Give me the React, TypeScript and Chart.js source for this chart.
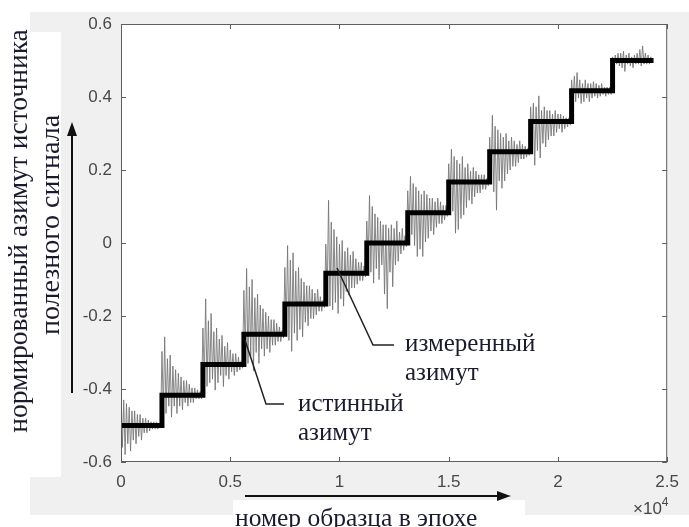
import React, { useEffect, useRef } from "react";
import { Chart, registerables } from "chart.js";

Chart.register(...registerables);

// ---- data ----
const stepStarts = [0, 1875, 3750, 5625, 7500, 9375, 11250, 13125, 15000, 16875, 18750, 20625, 22500];
const epochEnd = 24375;
const trueLevels = [-0.5, -0.417, -0.333, -0.25, -0.167, -0.083, 0, 0.083, 0.167, 0.25, 0.333, 0.417, 0.5];
const xTickValues = [0, 5000, 10000, 15000, 20000, 25000];
const yTickValues = [-0.6, -0.4, -0.2, 0, 0.2, 0.4, 0.6];

// measured azimuth: deviations from the true level, read per step
const m01 = [0.1, -0.06, 0.07, -0.08, 0.06, -0.05, 0.05, -0.07, 0.04, -0.04, 0.04, -0.05, 0.03, -0.03, 0.03, -0.04, 0.02, -0.02, 0.02, -0.02, 0.015, -0.015, 0.01, -0.01, 0.01, -0.01, 0.01, -0.01, 0.005, -0.005];
const m02 = [0.12, -0.04, 0.16, -0.05, 0.1, -0.03, 0.11, -0.06, 0.08, -0.03, 0.07, -0.05, 0.06, -0.03, 0.05, -0.04, 0.04, -0.02, 0.04, -0.03, 0.03, -0.02, 0.02, -0.02, 0.02, -0.01, 0.015, -0.01, 0.01, -0.01];
const m03 = [0.1, -0.04, 0.18, -0.06, 0.12, -0.05, 0.14, -0.04, 0.09, -0.07, 0.1, -0.05, 0.07, -0.03, 0.08, -0.06, 0.05, -0.03, 0.06, -0.04, 0.04, -0.02, 0.03, -0.03, 0.03, -0.02, 0.02, -0.015, 0.01, -0.01];
const m04 = [0.12, -0.05, 0.18, -0.08, 0.13, -0.06, 0.15, -0.1, 0.1, -0.05, 0.11, -0.08, 0.08, -0.04, 0.07, -0.06, 0.06, -0.04, 0.05, -0.05, 0.04, -0.03, 0.04, -0.03, 0.03, -0.02, 0.02, -0.02, 0.01, -0.01];
const m05 = [0.1, -0.06, 0.16, -0.1, 0.12, -0.13, 0.14, -0.08, 0.09, -0.1, 0.1, -0.07, 0.07, -0.09, 0.06, -0.05, 0.05, -0.06, 0.05, -0.04, 0.04, -0.04, 0.03, -0.03, 0.04, -0.02, 0.02, -0.02, 0.01, -0.01];
const m06 = [0.08, -0.06, 0.2, -0.09, 0.14, -0.1, 0.12, -0.08, 0.1, -0.11, 0.08, -0.07, 0.09, -0.09, 0.06, -0.05, 0.07, -0.06, 0.05, -0.04, 0.06, -0.04, 0.04, -0.03, 0.03, -0.02, 0.03, -0.02, 0.02, -0.01];
const m07 = [0.06, -0.05, 0.13, -0.08, 0.1, -0.11, 0.08, -0.07, 0.07, -0.1, 0.06, -0.06, 0.05, -0.14, 0.05, -0.18, 0.04, -0.08, 0.05, -0.12, 0.04, -0.06, 0.06, -0.05, 0.03, -0.03, 0.04, -0.02, 0.02, -0.01];
const m08 = [0.06, -0.04, 0.1, -0.06, 0.08, -0.09, 0.07, -0.12, 0.06, -0.1, 0.05, -0.12, 0.06, -0.08, 0.05, -0.07, 0.04, -0.05, 0.04, -0.06, 0.03, -0.04, 0.04, -0.03, 0.03, -0.03, 0.02, -0.02, 0.02, -0.01];
const m09 = [0.05, -0.05, 0.09, -0.08, 0.07, -0.14, 0.06, -0.13, 0.05, -0.1, 0.07, -0.09, 0.04, -0.07, 0.05, -0.05, 0.03, -0.06, 0.04, -0.04, 0.03, -0.03, 0.02, -0.03, 0.02, -0.02, 0.02, -0.02, 0.01, -0.01];
const m10 = [0.04, -0.06, 0.1, -0.11, 0.07, -0.16, 0.06, -0.08, 0.05, -0.1, 0.04, -0.08, 0.05, -0.06, 0.03, -0.05, 0.04, -0.04, 0.03, -0.04, 0.02, -0.03, 0.03, -0.02, 0.02, -0.02, 0.015, -0.015, 0.01, -0.01];
const m11 = [0.04, -0.05, 0.05, -0.12, 0.04, -0.08, 0.07, -0.1, 0.03, -0.06, 0.04, -0.07, 0.03, -0.05, 0.03, -0.04, 0.02, -0.04, 0.03, -0.03, 0.02, -0.02, 0.02, -0.03, 0.015, -0.02, 0.01, -0.015, 0.01, -0.01];
const m12 = [0.03, -0.03, 0.04, -0.03, 0.05, -0.02, 0.03, -0.035, 0.02, -0.03, 0.03, -0.02, 0.02, -0.03, 0.02, -0.02, 0.025, -0.015, 0.02, -0.02, 0.015, -0.015, 0.02, -0.01, 0.01, -0.015, 0.01, -0.01, 0.01, -0.01];
const m13 = [0.01, -0.01, 0.015, -0.01, 0.02, -0.015, 0.02, -0.02, 0.025, -0.03, 0.015, -0.01, 0.02, -0.015, 0.01, -0.02, 0.015, -0.01, 0.02, -0.01, 0.03, -0.015, 0.04, -0.01, 0.02, -0.01, 0.015, -0.01, 0.01, -0.005];
const measuredOffsets = [m01, m02, m03, m04, m05, m06, m07, m08, m09, m10, m11, m12, m13];

const W = 689;
const H = 527;
const TEXT_COLOR = "#1b1b30";
const TICK_COLOR = "#474747";

function buildMeasured() {
  const pts: { x: number; y: number }[] = [];
  measuredOffsets.forEach((offs, s) => {
    const start = stepStarts[s];
    const end = s + 1 < stepStarts.length ? stepStarts[s + 1] : epochEnd;
    const n = offs.length;
    offs.forEach((d, i) => {
      pts.push({ x: start + ((end - start) * i) / n, y: trueLevels[s] + d });
    });
  });
  return pts;
}

function buildTrue() {
  const pts = stepStarts.map((x, i) => ({ x, y: trueLevels[i] }));
  pts.push({ x: epochEnd, y: trueLevels[trueLevels.length - 1] });
  return pts;
}

const framePlugin = {
  id: "frame",
  beforeDraw(chart: any) {
    const { ctx, chartArea: a } = chart;
    ctx.save();
    ctx.fillStyle = "#ffffff";
    ctx.fillRect(0, 0, W, H);
    ctx.fillStyle = "#f0f0f0";
    ctx.fillRect(30, 12, W - 30, 503);
    ctx.fillStyle = "#ffffff";
    ctx.fillRect(a.left, a.top, a.right - a.left, a.bottom - a.top);
    ctx.restore();
  },
  afterDraw(chart: any) {
    const { ctx, chartArea: a, scales } = chart;
    ctx.save();
    ctx.strokeStyle = "#5e5e5e";
    ctx.lineWidth = 1;
    ctx.strokeRect(a.left + 0.5, a.top + 0.5, a.right - a.left - 1, a.bottom - a.top - 1);
    const tl = 5;
    ctx.beginPath();
    xTickValues.forEach((v) => {
      const px = Math.round(scales.x.getPixelForValue(v)) + 0.5;
      ctx.moveTo(px, a.bottom);
      ctx.lineTo(px, a.bottom - tl);
      ctx.moveTo(px, a.top);
      ctx.lineTo(px, a.top + tl);
    });
    yTickValues.forEach((v) => {
      const py = Math.round(scales.y.getPixelForValue(v)) + 0.5;
      ctx.moveTo(a.left, py);
      ctx.lineTo(a.left + tl, py);
      ctx.moveTo(a.right, py);
      ctx.lineTo(a.right - tl, py);
    });
    ctx.stroke();
    ctx.restore();
  },
};

export default function App() {
  const canvasRef = useRef<HTMLCanvasElement | null>(null);

  useEffect(() => {
    if (!canvasRef.current) return;
    const chart = new Chart(canvasRef.current, {
      type: "line",
      data: {
        datasets: [
          {
            label: "истинный азимут",
            data: buildTrue(),
            borderColor: "#000000",
            borderWidth: 5,
            stepped: "before",
            pointRadius: 0,
            borderJoinStyle: "miter",
            borderCapStyle: "butt",
            order: 0,
          },
          {
            label: "измеренный азимут",
            data: buildMeasured(),
            borderColor: "rgba(115,115,115,0.85)",
            borderWidth: 1,
            pointRadius: 0,
            tension: 0,
            order: 1,
          },
        ],
      } as any,
      options: {
        responsive: false,
        animation: false,
        parsing: false,
        layout: { padding: { left: 0, top: 24, right: 16, bottom: 0 } },
        plugins: { legend: { display: false }, tooltip: { enabled: false } },
        scales: {
          x: {
            type: "linear",
            min: 0,
            max: 25000,
            afterBuildTicks: (scale: any) => {
              scale.ticks = xTickValues.map((v) => ({ value: v }));
            },
            afterFit: (scale: any) => {
              scale.height = 65;
            },
            grid: { display: false, drawTicks: false },
            border: { display: false },
            ticks: {
              padding: 10,
              color: TICK_COLOR,
              font: { family: "'Liberation Sans', Arial, sans-serif", size: 17 },
              maxRotation: 0,
              callback: (v: any) => String(Number(v) / 10000),
            },
          },
          y: {
            type: "linear",
            min: -0.6,
            max: 0.6,
            afterBuildTicks: (scale: any) => {
              scale.ticks = yTickValues.map((v) => ({ value: v }));
            },
            afterFit: (scale: any) => {
              scale.width = 121;
            },
            grid: { display: false, drawTicks: false },
            border: { display: false },
            ticks: {
              padding: 9,
              color: TICK_COLOR,
              font: { family: "'Liberation Sans', Arial, sans-serif", size: 17 },
              callback: (v: any) => {
                const r = Math.round(Number(v) * 10) / 10;
                return r === 0 ? "0" : String(r);
              },
            },
          },
        },
      } as any,
      plugins: [framePlugin],
    });
    return () => chart.destroy();
  }, []);

  const serif = "'Liberation Serif', 'Times New Roman', serif";

  return (
    <div style={{ position: "fixed", left: 0, top: 0, width: W, height: H, background: "#fff", overflow: "hidden" }}>
      <canvas ref={canvasRef} width={W} height={H} style={{ position: "absolute", left: 0, top: 0 }} />
      {/* white box behind y title */}
      <div style={{ position: "absolute", left: 0, top: 32, width: 61, height: 445, background: "#fff" }} />
      <div
        style={{
          position: "absolute",
          left: 18,
          top: 231,
          transform: "translate(-50%, -50%) rotate(-90deg)",
          whiteSpace: "nowrap",
          font: `27.5px ${serif}`,
          lineHeight: 1,
          color: TEXT_COLOR,
        }}
      >
        нормированный азимут источника
      </div>
      <div
        style={{
          position: "absolute",
          left: 50,
          top: 225,
          transform: "translate(-50%, -50%) rotate(-90deg)",
          whiteSpace: "nowrap",
          font: `28px ${serif}`,
          lineHeight: 1,
          color: TEXT_COLOR,
        }}
      >
        полезного сигнала
      </div>
      {/* white box behind x title */}
      <div style={{ position: "absolute", left: 233, top: 500, width: 292, height: 27, background: "#fff" }} />
      <div
        style={{
          position: "absolute",
          left: 235,
          top: 505,
          whiteSpace: "nowrap",
          font: `25.5px ${serif}`,
          lineHeight: "25px",
          color: TEXT_COLOR,
        }}
      >
        номер образца в эпохе
      </div>
      {/* exponent */}
      <div
        style={{
          position: "absolute",
          left: 633,
          top: 500,
          whiteSpace: "nowrap",
          font: "17px 'Liberation Sans', Arial, sans-serif",
          lineHeight: "17px",
          color: TICK_COLOR,
        }}
      >
        ×10<span style={{ fontSize: 12, position: "relative", top: -8 }}>4</span>
      </div>
      {/* annotations */}
      <div
        style={{
          position: "absolute",
          left: 405,
          top: 328,
          whiteSpace: "nowrap",
          font: `25px ${serif}`,
          lineHeight: "29px",
          color: TEXT_COLOR,
        }}
      >
        измеренный
        <br />
        азимут
      </div>
      <div
        style={{
          position: "absolute",
          left: 298,
          top: 388,
          whiteSpace: "nowrap",
          font: `25px ${serif}`,
          lineHeight: "29px",
          color: TEXT_COLOR,
        }}
      >
        истинный
        <br />
        азимут
      </div>
      <svg width={W} height={H} style={{ position: "absolute", left: 0, top: 0, pointerEvents: "none" }}>
        <polyline points="337,268 373,345 394,345" fill="none" stroke="#222" strokeWidth={1.5} />
        <polyline points="245,340 266,404 284,404" fill="none" stroke="#222" strokeWidth={1.5} />
        {/* y arrow */}
        <line x1={72} y1={393} x2={72} y2={134} stroke="#111" strokeWidth={2} />
        <polygon points="72,122 67,136 77,136" fill="#111" />
        {/* x arrow */}
        <line x1={245} y1={496} x2={498} y2={496} stroke="#111" strokeWidth={2} />
        <polygon points="511,496 497,491 497,501" fill="#111" />
      </svg>
    </div>
  );
}
